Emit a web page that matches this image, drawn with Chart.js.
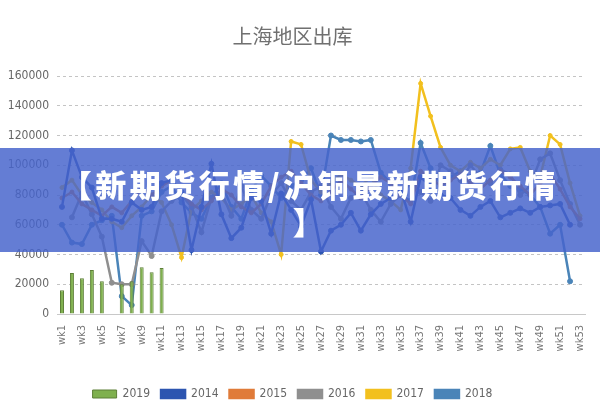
<!DOCTYPE html>
<html>
<head>
<meta charset="utf-8">
<script src="https://cdn.jsdelivr.net/npm/chart.js@4"></script>
<style>
  body { margin: 0; background: #fff; }
  #wrap { position: relative; width: 600px; height: 400px; overflow: hidden; }
  #box { position: absolute; left: 0; top: 0; width: 600px; height: 410px; }
  #banner {
    position: absolute; left: 0; top: 148px; width: 600px; height: 104px;
    background: rgba(70, 100, 204, 0.84);
    color: #fff; text-align: center;
    font-family: "Noto Sans CJK SC", sans-serif; font-weight: 900;
    font-size: 31px; line-height: 37px; letter-spacing: 3.5px;
    padding: 17px 0 0 20px; box-sizing: border-box;
  }
</style>
</head>
<body>
<div id="wrap">
  <div id="box"><canvas id="chart" width="600" height="410"></canvas></div>
  <div id="banner">【新期货行情/沪铜最新期货行情<br>】</div>
</div>
<script>
// weeks wk1..wk53
const weeks = [];
for (let i = 1; i <= 53; i++) weeks.push('wk' + i);

const yTicks = [0, 20000, 40000, 60000, 80000, 100000, 120000, 140000, 160000];

const s2019 = [16000, 27500, 24000, 29500, 22000, null, 20000, 22000, 31500, 28000, 31000];

const s2014 = [72000, 110000, 92000, 85000, 64000, 64000, 62000, 75000, 70000, 72000,
  88000, 90000, 82000, 43000, 72000, 101000, 67000, 51000, 58000, 78000,
  76000, 54000, 81000, 70000, 59000, 77000, 42000, 56000, 60000, 68000,
  56000, 67000, 74000, 78000, 84000, 62000, 92000, 86000, 80000, 78000,
  70000, 66000, 72000, 76000, 65000, 68000, 71000, 68000, 72000, 73000,
  74000, 60000, null];

const s2015 = [78000, 82000, 74000, 70000, 66000, 72000, 68000, 76000, 84000, 80000,
  86000, 90000, 82000, 74000, 70000, 76000, 84000, 80000, 72000, 68000,
  74000, 86000, 92000, 96000, 88000, 80000, 76000, 82000, 90000, 84000,
  78000, 86000, 92000, 88000, 80000, 74000, 96000, 92000, 86000, 90000,
  94000, 88000, 84000, 90000, 96000, 92000, 86000, 80000, 88000, 94000,
  84000, 72000, 64000];

const s2016 = [null, 65000, 81000, 67000, 52000, 21000, 20000, 20000, 49000, 39000,
  69000, 76000, 80000, 72000, 55000, 78000, 82000, 66000, 86000, 70000,
  64000, 80000, 88000, 76000, 70000, 82000, 86000, 72000, 64000, 78000,
  82000, 70000, 62000, 74000, 80000, 88000, 82000, 76000, 100000, 96000,
  90000, 100000, 92000, 88000, 97000, 94000, 80000, 86000, 104000, 108000,
  90000, 74000, 60000];

const s2017 = [85000, 90000, 80000, 75000, 70000, 62000, 58000, 66000, 72000, 80000,
  75000, 60000, 38000, 70000, 76000, 82000, 78000, 70000, 74000, 80000,
  68000, 62000, 40000, 116000, 114000, 90000, 82000, 88000, 94000, 90000,
  86000, 92000, 80000, 76000, 70000, 98000, 155000, 133000, 112000, 100000,
  96000, 102000, 98000, 104000, 100000, 111000, 112000, 96000, 92000, 120000,
  114000, 88000, 66000];

const s2018 = [60000, 48000, 47000, 60000, 63000, 66000, 12000, 6000, 66000, 69000,
  82000, 86000, 75000, 68000, 64000, 78000, 88000, 72000, 64000, 83000,
  93000, 86000, 78000, 86000, 90000, 98000, 80000, 120000, 117000, 117000,
  116000, 117000, 95000, 88000, 80000, 76000, 115000, 98000, 90000, 92000,
  96000, 92000, 95000, 113000, 94000, 86000, 84000, 80000, 72000, 54000,
  60000, 22000, null];

const narrow = '"DejaVu Sans Condensed", "Liberation Sans", sans-serif';

function line(label, data, color, radius) {
  return {
    type: 'line', label: label, data: data,
    borderColor: color, backgroundColor: color,
    borderWidth: 2.5, pointRadius: radius, pointBorderWidth: 1,
    pointBackgroundColor: color, tension: 0, spanGaps: false
  };
}

const ctx = document.getElementById('chart').getContext('2d');
new Chart(ctx, {
  data: {
    labels: weeks,
    datasets: [
      { type: 'bar', label: '2019', data: s2019, backgroundColor: '#7fb04e',
        borderColor: '#5d7f37', borderWidth: 1, barPercentage: 0.4, categoryPercentage: 1 },
      line('2014', s2014, '#2c55b0', 2.5),
      line('2015', s2015, '#e07b39', 2),
      line('2016', s2016, '#8f8f8f', 2.5),
      line('2017', s2017, '#f2c01e', 2),
      line('2018', s2018, '#4a84b8', 2.5)
    ]
  },
  options: {
    responsive: false,
    animation: false,
    layout: { padding: { right: 15, left: 0 } },
    plugins: {
      title: {
        display: true, text: '上海地区出库', color: '#707070',
        font: { family: 'Noto Sans CJK SC', size: 20, weight: 'normal' },
        padding: { top: 24, bottom: 28 }
      },
      legend: {
        position: 'bottom',
        labels: {
          color: '#666', font: { family: narrow, size: 12 },
          boxWidth: 24, boxHeight: 8, padding: 11
        }
      },
      tooltip: { enabled: false }
    },
    scales: {
      x: {
        grid: { display: false },
        border: { color: '#c8c8c8' },
        ticks: {
          autoSkip: false, maxRotation: 90, minRotation: 90,
          color: '#777', font: { family: narrow, size: 11 },
          callback: function (v, i) { return i % 2 === 0 ? weeks[i] : ''; }
        },
        afterFit: function (s) { s.height = 63; }
      },
      y: {
        min: 0, max: 160000,
        afterBuildTicks: function (s) { s.ticks = yTicks.map(v => ({ value: v })); },
        grid: { color: '#c4c4c4', drawTicks: false, lineWidth: 1 },
        border: { display: false, dash: [3, 3] },
        ticks: {
          color: '#666', padding: 8,
          font: { family: narrow, size: 12 },
          callback: function (v) { return String(v); }
        },
        afterFit: function (s) { s.width = 57; }
      }
    }
  }
});
</script>
</body>
</html>
